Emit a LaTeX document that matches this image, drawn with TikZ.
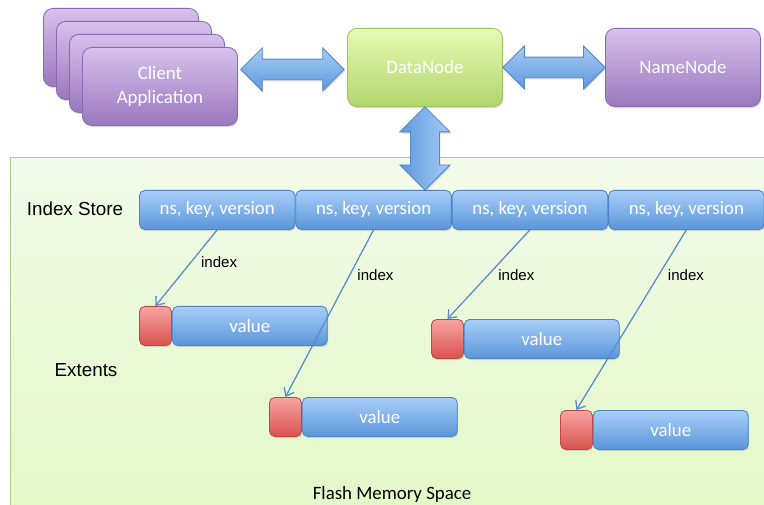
\documentclass[tikz,border=0pt]{standalone}
\usepackage{fontspec}
\setmainfont{Carlito}
\newfontfamily\arialfont{Liberation Sans}
\usetikzlibrary{positioning}
\usetikzlibrary{calc}
\usetikzlibrary{shapes.arrows}
\usetikzlibrary{shadows}
\usetikzlibrary{arrows.meta}
\definecolor{purpletop}{HTML}{D6C0EC}
\definecolor{purplebot}{HTML}{9A78BE}
\definecolor{purpleline}{HTML}{8A6AB0}
\definecolor{greentop}{HTML}{E6FAB4}
\definecolor{greenbot}{HTML}{B2D66A}
\definecolor{greenline}{HTML}{9EC45C}
\definecolor{bluetop}{HTML}{A8CEF8}
\definecolor{bluebot}{HTML}{5A96DA}
\definecolor{blueline}{HTML}{4C82C6}
\definecolor{redtop}{HTML}{F8A4A2}
\definecolor{redbot}{HTML}{D8524E}
\definecolor{redline}{HTML}{BE4846}
\definecolor{flashtop}{HTML}{F2FBEA}
\definecolor{flashbot}{HTML}{E2F8C4}
\definecolor{flashline}{HTML}{AECC84}
\definecolor{arrowtop}{HTML}{A6CCF6}
\definecolor{arrowbot}{HTML}{5E98DC}
\definecolor{arrowline}{HTML}{5088CC}
\definecolor{idxline}{HTML}{5A8CCC}
\tikzset{every picture/.style={line width=0.6pt},
  boxtext/.style={text=white,font=\fontsize{13.4}{17.5}\selectfont,align=center},
  shade/.style={drop shadow={shadow xshift=0.6pt,shadow yshift=-1.2pt,opacity=0.3}},
  client/.style={rounded corners=1.4ex,minimum width=3.875cm,minimum height=1.95cm,
    top color=purpletop,bottom color=purplebot,draw=purpleline,shade,boxtext,anchor=north west},
  server/.style={rounded corners=1.4ex,minimum width=3.875cm,minimum height=1.95cm,
    top color=greentop,bottom color=greenbot,draw=greenline,shade,boxtext,anchor=north west},
  keybox/.style={rounded corners=0.8ex,minimum width=3.8875cm,minimum height=0.975cm,inner sep=0pt,
    top color=bluetop,bottom color=bluebot,draw=blueline,shade,boxtext},
  valbox/.style={keybox,minimum width=3.875cm},
  hdrbox/.style={rounded corners=0.8ex,minimum width=0.8cm,minimum height=0.975cm,inner sep=0pt,
    top color=redtop,bottom color=redbot,draw=redline,shade,anchor=north west},
  fatarrow/.style={double arrow,draw=arrowline,top color=arrowtop,bottom color=arrowbot,
    inner xsep=0pt,inner ysep=7pt,double arrow head extend=8pt,shade},
  region/.style={anchor=north west,draw=flashline,top color=flashtop,bottom color=flashbot,
    minimum width=19.5cm,minimum height=9.5cm},
  lbl/.style={font=\arialfont\fontsize{13.4}{16}\selectfont},
  idx/.style={draw=idxline,line width=0.9pt,-{Straight Barb[length=5pt,width=8pt]}},
  idxlbl/.style={font=\arialfont\fontsize{10.7}{12}\selectfont,anchor=west,inner sep=0pt}
}
\begin{document}
\begin{tikzpicture}[x=0.025cm,y=-0.025cm]
\useasboundingbox (0,0) rectangle (764,505);

% flash memory
\node (flash) at (10,157) [region] {};
\node (flashlbl) at (392,494) [font=\fontsize{13.4}{16}\selectfont] {Flash Memory Space};
\node (istore) at (75,209) [lbl] {Index Store};
\node (ext) at (86,370) [lbl] {Extents};

% clients, data node, name node
\node (c1) at (43,8) [client] {};
\node (c2) at (56,21) [client] {};
\node (c3) at (69,34) [client] {};
\node (c4) at (82,47) [client] {Client\\Application};
\node (dn) at (347,28) [server] {DataNode};
\node (nn) at (605,28) [client] {NameNode};

% index store
\node (k1) at (139,190) [keybox,anchor=north west] {ns, key, version};
\node (k2) [keybox,right=0pt of k1] {ns, key, version};
\node (k3) [keybox,right=0pt of k2] {ns, key, version};
\node (k4) [keybox,right=0pt of k3] {ns, key, version};

% extents
\node (r1) at (139,306) [hdrbox] {};
\node (v1) [valbox,right=0pt of r1] {value};
\node (r2) at (269,397) [hdrbox] {};
\node (v2) [valbox,right=0pt of r2] {value};
\node (r3) at (431,319) [hdrbox] {};
\node (v3) [valbox,right=0pt of r3] {value};
\node (r4) at (560,410) [hdrbox] {};
\node (v4) [valbox,right=0pt of r4] {value};

% big arrows
\path let \p1=(c4.east), \p2=(dn.west) in
  node (a1) at ($(\x1,\y2)!0.5!(\x2,\y2)+(0,2)$) [fatarrow,minimum height=\x2-\x1-4pt] {};
\path let \p1=(dn.east), \p2=(nn.west) in
  node (a2) at ($(\x1,\y2)!0.5!(\x2,\y2)$) [fatarrow,minimum height=\x2-\x1] {};
\coordinate (kt) at (dn.south |- k1.north);
\path let \p1=(dn.south), \p2=(kt) in
  node (a3) at ($(\p1)!0.5!(\p2)$) [fatarrow,rotate=90,left color=arrowbot,right color=arrowtop,
    inner ysep=10pt,double arrow head extend=7.5pt,minimum height=\y1-\y2] {};

% index pointers
\draw[idx] (k1.south) -- node[idxlbl,pos=0.43,xshift=7pt] {index} (r1.north);
\draw[idx] (k2.south) -- node[idxlbl,pos=0.27,xshift=5pt] {index} (r2.north);
\draw[idx] (k3.south) -- node[idxlbl,pos=0.51,xshift=7pt] {index} (r3.north);
\draw[idx] (k4.south) -- node[idxlbl,pos=0.25,xshift=6pt] {index} (r4.north);

\end{tikzpicture}
\end{document}
